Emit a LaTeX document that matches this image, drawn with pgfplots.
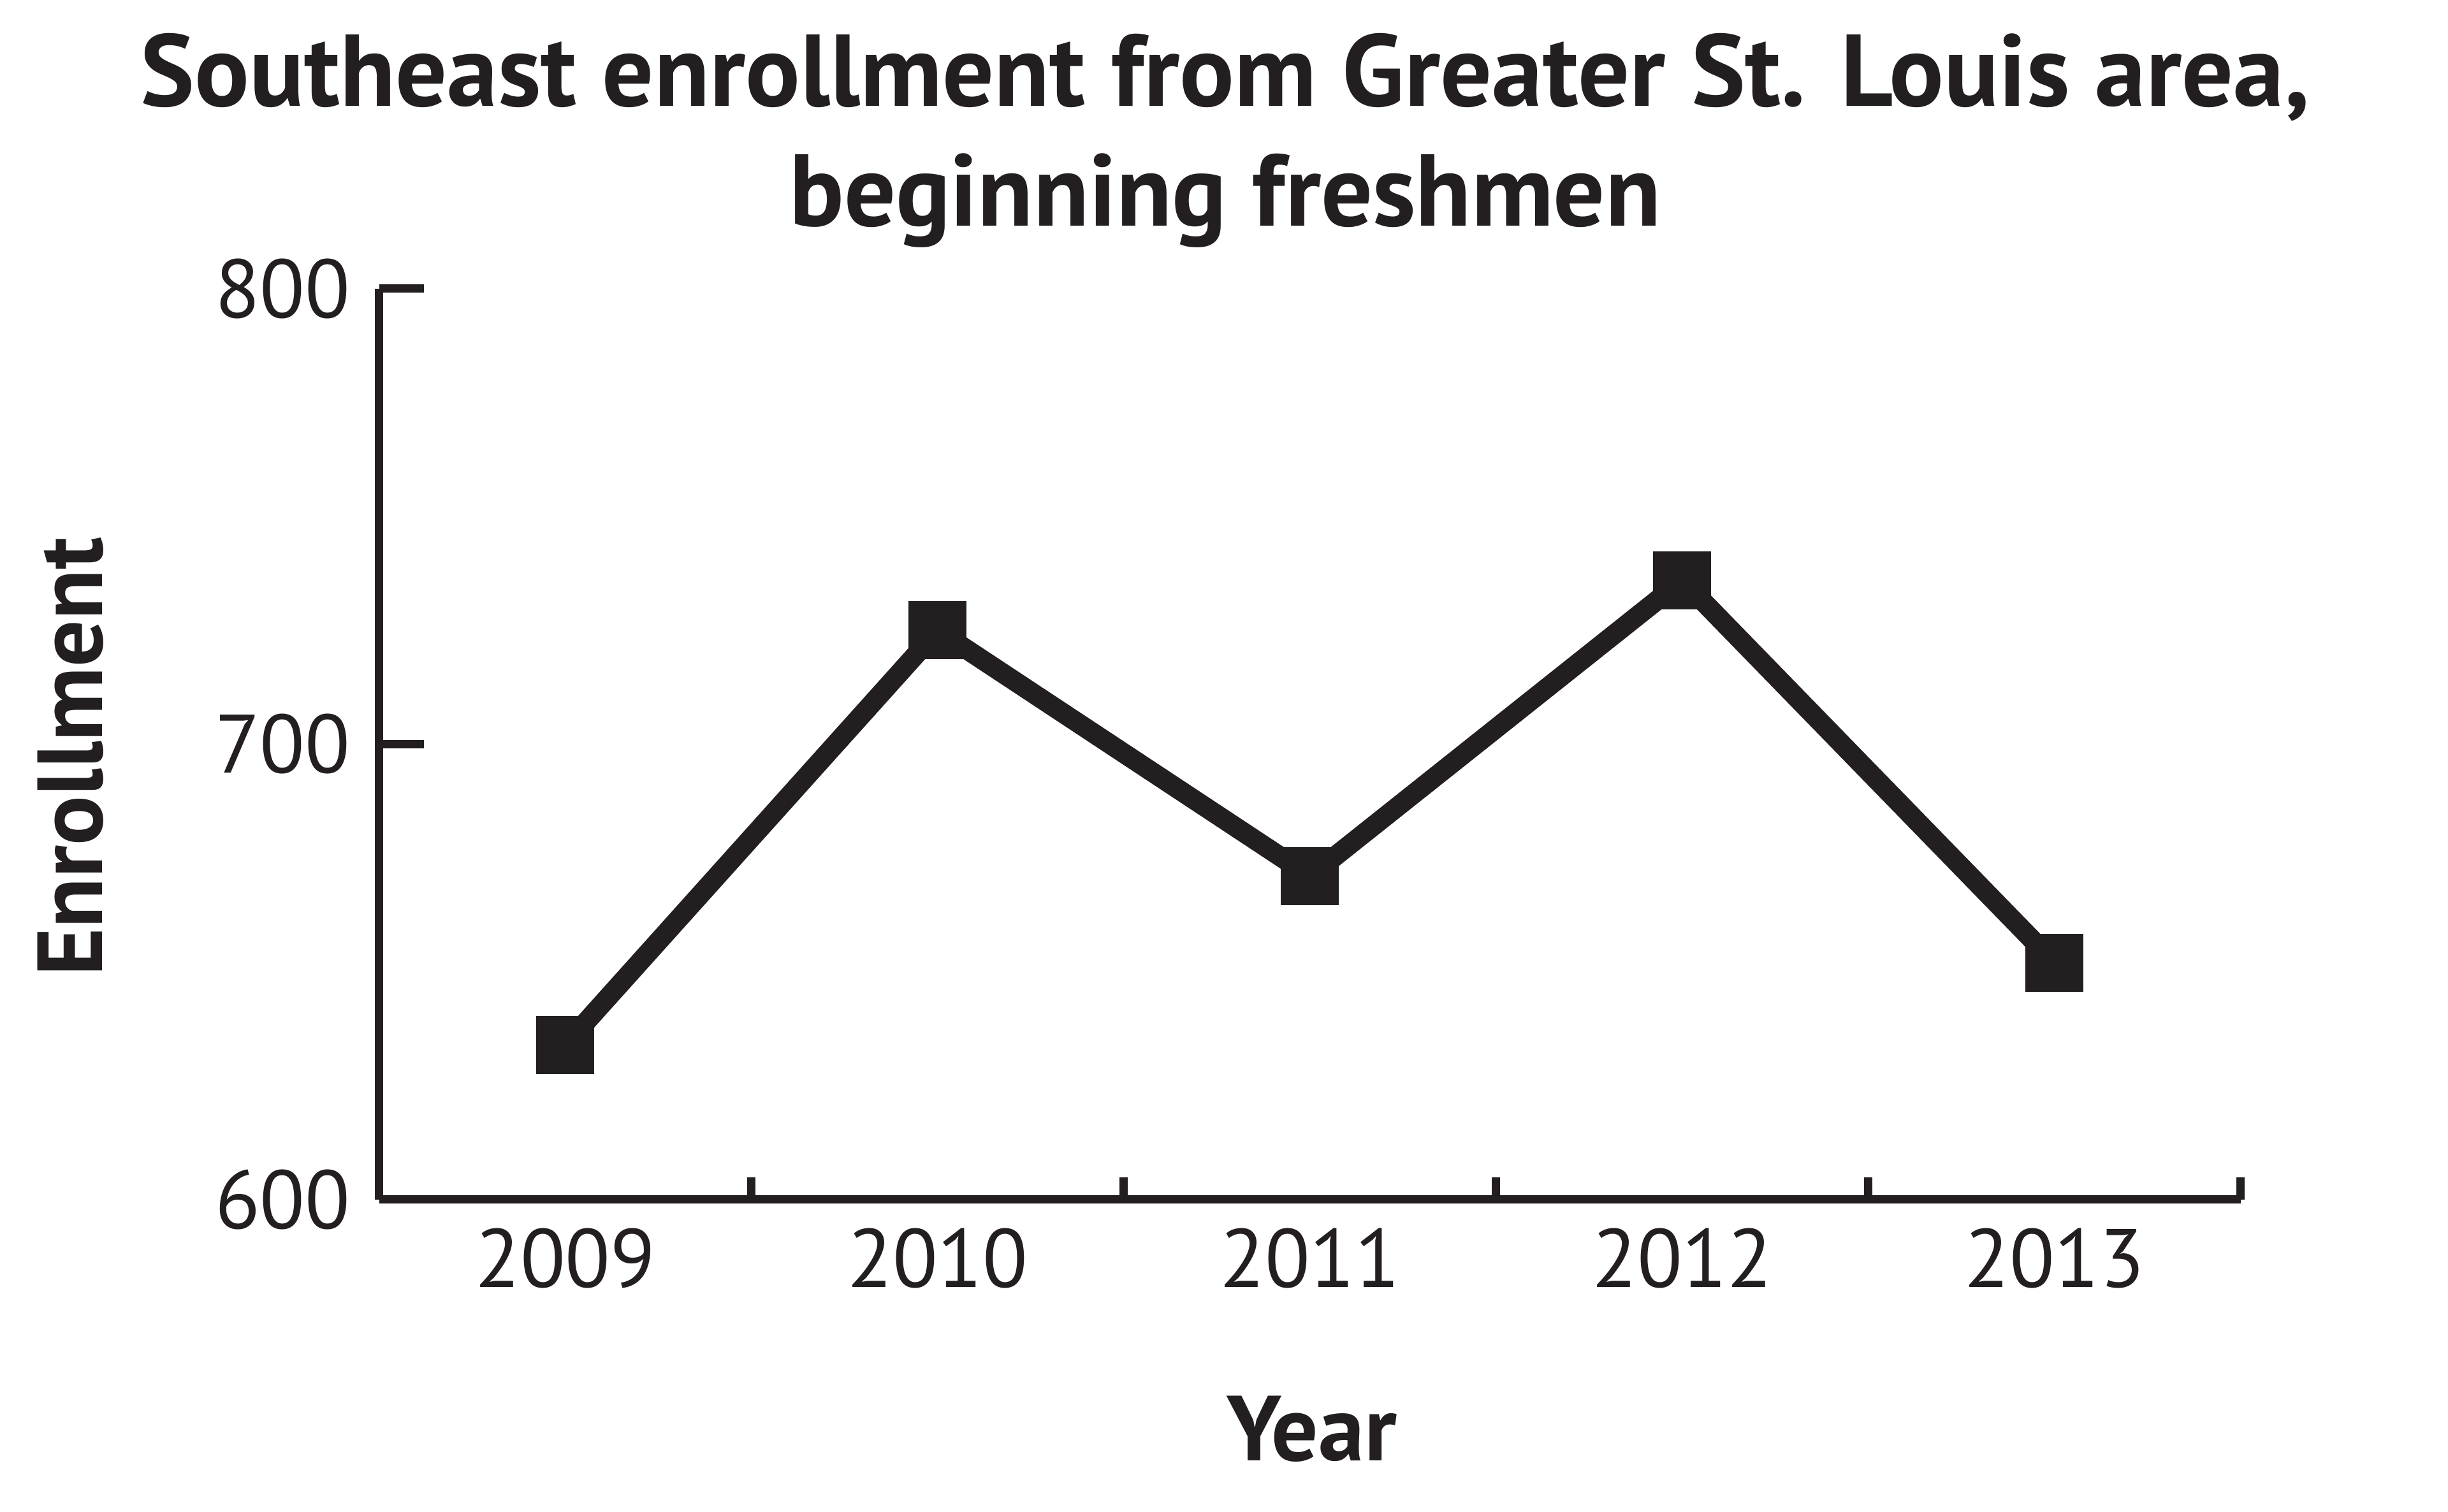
\documentclass[border=0pt]{standalone}
\usepackage{fontspec}
\setmainfont{PT Sans}
\usepackage{pgfplots}
\pgfplotsset{compat=1.18}
\definecolor{ink}{HTML}{231F20}
\begin{document}
\begin{tikzpicture}
\useasboundingbox (0,0) rectangle (384pt,237.2pt);
\begin{axis}[
  at={(59.5pt,49pt)}, anchor=south west,
  scale only axis, width=292pt, height=142.9pt,
  xmin=-0.5, xmax=4.5, ymin=600, ymax=800,
  axis x line=bottom, axis y line=left,
  axis line style={line width=1.3pt, draw=ink, -},
  tick align=inside,
  xtick={0,1,2,3,4},
  xticklabels={2009,2010,2011,2012,2013},
  minor xtick={0.5,1.5,2.5,3.5,4.5},
  ytick={600,700,800},
  major tick length=7pt, minor tick length=3.5pt,
  tick style={line width=1.3pt, draw=ink},
  x tick style={draw=none},
  minor x tick style={draw=ink, line width=1.3pt},
  /pgf/number format/assume math mode=true,
  /pgf/number format/set thousands separator={},
  ticklabel style={font=\fontsize{13}{15}\selectfont, text=ink},
  xticklabel style={yshift=-1pt},
  yticklabel style={xshift=-1pt},
  xlabel={Year}, ylabel={Enrollment},
  xlabel style={at={(axis description cs:0.501,-0.252)}, anchor=center, font=\bfseries\fontsize{14.5}{16}\selectfont, text=ink},
  ylabel style={at={(axis description cs:-0.166,0.486)}, anchor=center, rotate=0, font=\bfseries\fontsize{14.5}{16}\selectfont, text=ink},
  title={Southeast enrollment from Greater St. Louis area,\\beginning freshmen},
  title style={at={(axis description cs:0.4545,1.121)}, anchor=center, align=center, font=\bfseries\fontsize{16}{18.8}\selectfont, text=ink},
  clip=false,
]
\addplot[ink, line width=3.1pt, mark=square*, mark size=4.5pt, mark options={solid, line width=0pt, fill=ink, draw=ink}]
  coordinates {(0,634) (1,725) (2,671) (3,736) (4,652)};
\end{axis}
\end{tikzpicture}
\end{document}
